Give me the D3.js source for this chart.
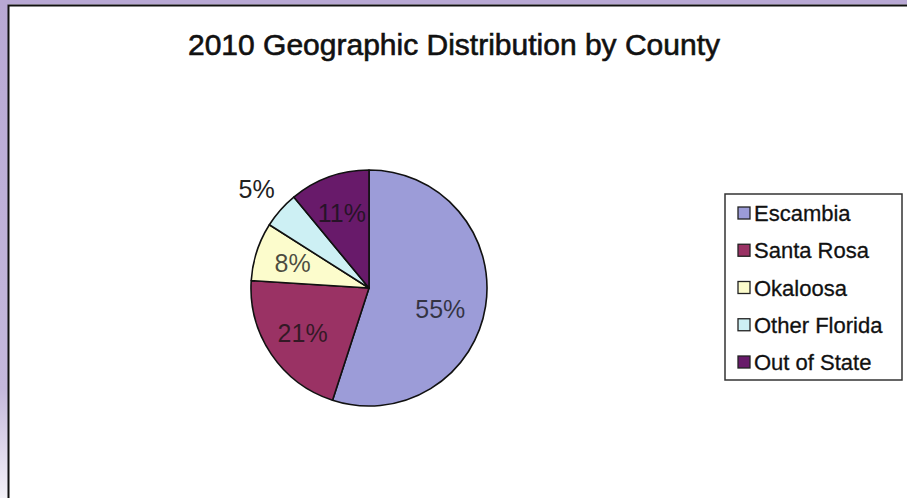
<!DOCTYPE html>
<head>
    <meta charset="utf-8">
    <title>2010 Geographic Distribution by County</title>
    <style>
        html, body {
            margin: 0;
            padding: 0;
            background: #fff;
        }
        svg {
            display: block;
            font-family: "Liberation Sans", Arial, sans-serif;
        }
    </style>
</head>
<body>
<script src="https://cdn.jsdelivr.net/npm/d3@7"></script>
<script>

    // chart data
    const counties = ["Escambia", "Santa Rosa", "Okaloosa", "Other Florida", "Out of State"];
    const shares = [55, 21, 8, 5, 11];
    const colors = ["#9c9cd8", "#9a3264", "#fcfccc", "#cdf0f4", "#681a6a"];
    const title = "2010 Geographic Distribution by County";

    const width = 907,
        height = 498;

    const svg = d3.select("body").append("svg")
        .attr("width", width)
        .attr("height", height);

    // lavender frame that fades out towards the bottom
    const defs = svg.append("defs");
    const grad = defs.append("linearGradient")
        .attr("id", "frameFade")
        .attr("x1", 0).attr("y1", 0).attr("x2", 0).attr("y2", 1);
    grad.append("stop").attr("offset", "0%").attr("stop-color", "#b8a8d4");
    grad.append("stop").attr("offset", "78%").attr("stop-color", "#c4b8dc");
    grad.append("stop").attr("offset", "100%").attr("stop-color", "#f4f2f8");

    svg.append("rect")
        .attr("x", 0).attr("y", 0)
        .attr("width", 8).attr("height", height)
        .attr("fill", "url(#frameFade)");
    svg.append("rect")
        .attr("x", 0).attr("y", 0)
        .attr("width", width).attr("height", 4.5)
        .attr("fill", "#b8a8d4");

    // black edge of the chart area
    svg.append("path")
        .attr("d", `M8.5,${height} V5.5 H${width}`)
        .attr("fill", "none")
        .attr("stroke", "#111")
        .attr("stroke-width", 2);

    svg.append("text")
        .attr("x", 454)
        .attr("y", 55)
        .attr("text-anchor", "middle")
        .attr("font-size", 30)
        .attr("fill", "#111")
        .attr("stroke", "#111")
        .attr("stroke-width", 0.6)
        .text(title);

    // pie
    const cx = 369, cy = 288, radius = 118;

    const pie = d3.pie().sort(null).value(d => d)(shares);
    const arc = d3.arc().innerRadius(0).outerRadius(radius);
    const labelArc = d3.arc().innerRadius(radius * 0.68).outerRadius(radius * 0.68);
    const outerLabelArc = d3.arc().innerRadius(radius * 1.27).outerRadius(radius * 1.27);

    const g = svg.append("g").attr("transform", `translate(${cx},${cy})`);

    g.selectAll("path.slice")
        .data(pie)
        .enter().append("path")
        .attr("class", "slice")
        .attr("d", arc)
        .attr("fill", (d, i) => colors[i])
        .attr("stroke", "#111")
        .attr("stroke-width", 1.6)
        .attr("stroke-linejoin", "round");

    g.selectAll("text.label")
        .data(pie)
        .enter().append("text")
        .attr("class", "label")
        .attr("transform", d => {
            const c = d.data < 6 ? outerLabelArc.centroid(d) : labelArc.centroid(d);
            // the big slice's label sits a little lower in the original
            const shift = d.data > 50 ? 8 : 0;
            return `translate(${c[0] - shift},${c[1] + shift})`;
        })
        .attr("text-anchor", "middle")
        .attr("dy", "0.36em")
        .attr("font-size", 25)
        .attr("fill", d => d.data < 6 ? "#222" : "#111")
        .attr("fill-opacity", d => d.data < 6 ? 1 : 0.75)
        .text(d => d.data + "%");

    // legend
    const legend = svg.append("g").attr("transform", "translate(725,194)");
    legend.append("rect")
        .attr("width", 177)
        .attr("height", 186)
        .attr("fill", "#fff")
        .attr("stroke", "#333")
        .attr("stroke-width", 1.5);

    const rowY = d3.scalePoint()
        .domain(counties)
        .range([19, 168]);

    const rows = legend.selectAll("g.row")
        .data(counties)
        .enter().append("g")
        .attr("class", "row")
        .attr("transform", d => `translate(0,${rowY(d)})`);

    rows.append("rect")
        .attr("x", 13)
        .attr("y", -6)
        .attr("width", 12)
        .attr("height", 12)
        .attr("fill", (d, i) => colors[i])
        .attr("stroke", "#222")
        .attr("stroke-width", 1.3);

    rows.append("text")
        .attr("x", 29)
        .attr("y", 8)
        .attr("font-size", 22)
        .attr("fill", "#111")
        .attr("stroke", "#111")
        .attr("stroke-width", 0.3)
        .text(d => d);

</script>
</body>
